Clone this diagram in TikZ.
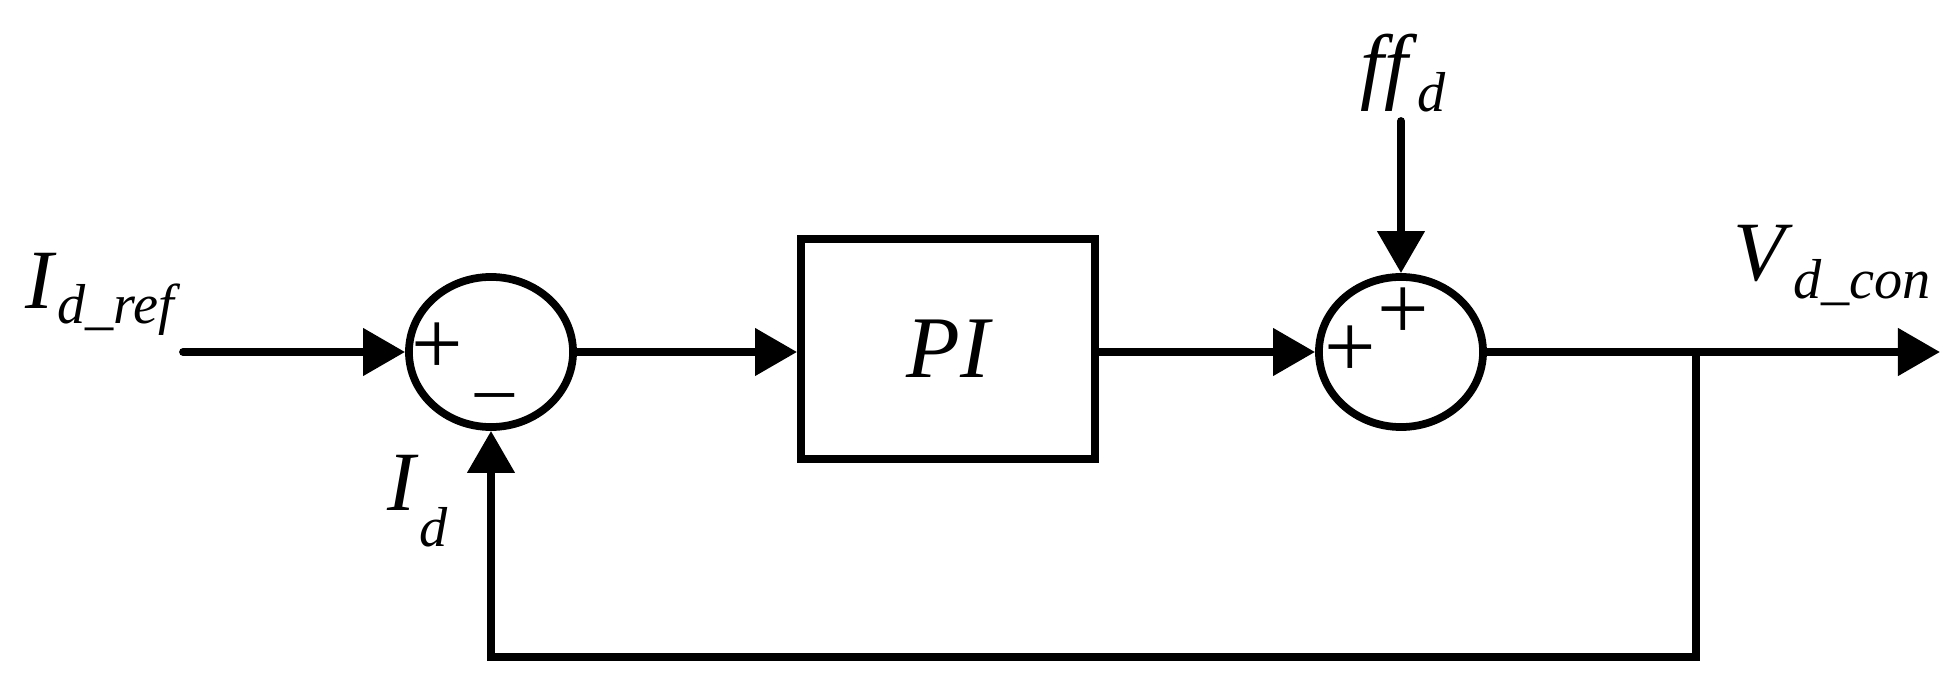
\documentclass[tikz,border=0pt]{standalone}
\usepackage{fontspec}
\setmainfont{Liberation Serif}
\usetikzlibrary{arrows.meta,positioning,shapes.geometric}

% signal label: main letter with a lowered subscript
\newcommand{\sig}[3][5pt]{\textit{#2}\raisebox{-#1}{\fontsize{16}{16}\selectfont\textit{#3}}}

\begin{document}
\begin{tikzpicture}[x=0.01cm,y=-0.01cm,
    line width=2.2pt,
    >={Triangle[length=0.42cm,width=0.46cm]},
    sumnode/.style={draw,ellipse,inner sep=0pt,minimum width=1.64cm,minimum height=1.5cm},
    block/.style={draw,rectangle,inner sep=0pt,minimum width=2.94cm,minimum height=2.2cm,
        font=\fontsize{25}{30}\selectfont\itshape},
    signal/.style={inner sep=0pt,anchor=base west,font=\fontsize{24}{28}\selectfont},
    sgn/.style={inner sep=0pt,font=\fontsize{26}{26}\selectfont},
]
    \useasboundingbox (0,0) rectangle (1956,682);

    % blocks
    \node[sumnode] (sumA) at (491,352) {};
    \node[block] (pi) at (948,349) {PI};
    \node[sumnode] (sumB) at (1401,352) {};

    % signs
    \node[sgn] (pA) at (437,349) {+};
    \node[sgn,font=\fontsize{22}{22}\selectfont] (mA) at (495,404) {\textendash};
    \node[sgn] (pB) at (1350,352) {+};
    \node[sgn] (pC) at (1403,314) {+};

    % free ends
    \coordinate (in) at (183,352);
    \coordinate (ff) at (1401,121);
    \coordinate (out) at (1940,352);
    \coordinate (br) at (1696,352);
    \coordinate (bot) at (1696,657);

    % connectors
    \draw[->,line cap=round] (in) -- (sumA.west);
    \draw[->] (sumA.east) -- (pi.west |- sumA.east);
    \draw[->] (pi.east |- sumB.west) -- (sumB.west);
    \draw[->,line cap=round] (ff) -- (sumB.north);
    \draw[->] (sumB.east) -- (out);
    \draw[->,line join=miter] (br) -- (bot) -| (sumA.south);

    % labels
    \node[signal] (lref) at (22,309) {\sig[4pt]{I}{d\_ref}};
    \node[signal] (lid) at (384,511) {\sig[10pt]{I}{d}};
    \node[signal] (lff) at (1357,94) {\sig[5pt]{ff}{d}};
    \node[signal] (lout) at (1730,281) {\sig[5pt]{V}{d\_con}};
\end{tikzpicture}
\end{document}
